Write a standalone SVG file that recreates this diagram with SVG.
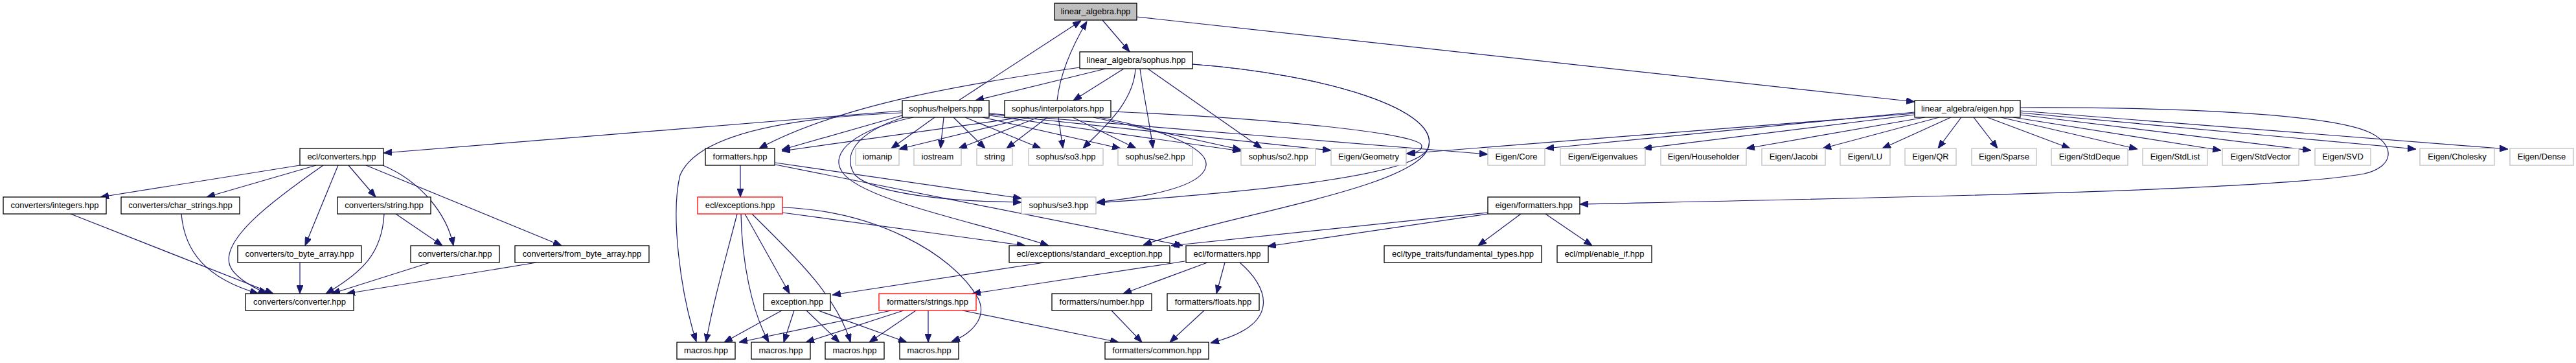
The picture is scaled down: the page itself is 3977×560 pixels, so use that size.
<svg xmlns="http://www.w3.org/2000/svg" width="3977" height="560" viewBox="0 0 3977 560">
<style>
.n rect{fill:#fff;stroke:#000;stroke-width:1.3}
.n.g rect{stroke:#bfbfbf}
.n.r rect{stroke:#ff0000}
.n.root rect{fill:#bfbfbf}
.n text{font-family:"Liberation Sans",Arial,sans-serif;font-size:13px;text-anchor:middle;fill:#000}
.e path{fill:none;stroke:#191970;stroke-width:1.2;marker-end:url(#a)}
</style>
<defs>
<marker id="a" markerUnits="userSpaceOnUse" markerWidth="13" markerHeight="10" refX="13" refY="5" orient="auto" viewBox="0 0 13 10">
<path d="M0,0 L13,5 L0,10 Z" fill="#191970" stroke="#191970" stroke-width="1"/>
</marker>
</defs>
<rect width="3977" height="560" fill="#fff"/>
<g id="edges" class="e">
<path d="M1702,31 L1744,80"/>
<path d="M1755,26 L2956,157"/>
<path d="M1480,155 L1669,32"/>
<path d="M1632,155 C1636,120 1650,80 1678,33"/>
<path d="M1707,106 L1506,155"/>
<path d="M1735,106 L1657,155"/>
<path d="M1667,104 C1500,128 1300,160 1172,229"/>
<path d="M1753,106 C1750,160 1700,200 1672,229"/>
<path d="M1760,106 C1766,150 1775,190 1780,229"/>
<path d="M1772,106 L1948,229"/>
<path d="M1841,99 C2050,115 2225,170 2205,228 C2190,270 1950,295 1693,313"/>
<path d="M1841,99 C2050,115 2225,170 2205,228 C2185,290 1900,330 1765,378"/>
<path d="M3119,166 C3350,165 3600,175 3660,205 C3700,225 3695,258 3650,268 C3500,295 2900,305 2439,315"/>
<path d="M1392,171 L592,236"/>
<path d="M1392,174 C1250,180 1080,200 1050,270 C1035,330 1050,450 1075,527"/>
<path d="M1393,178 L1207,231"/>
<path d="M1443,181 L1376,229"/>
<path d="M1457,181 L1452,229"/>
<path d="M1472,181 L1521,229"/>
<path d="M1490,181 L1607,229"/>
<path d="M1517,181 L1730,229"/>
<path d="M1527,178 L1916,233"/>
<path d="M1527,176 L2055,232"/>
<path d="M1527,175 L2297,238"/>
<path d="M1395,181 C1320,205 1300,240 1320,270 C1350,300 1470,311 1577,312"/>
<path d="M1410,181 C1320,200 1280,235 1300,265 C1330,310 1520,345 1619,379"/>
<path d="M1578,181 L1207,233"/>
<path d="M1589,181 L1388,230"/>
<path d="M1603,181 L1480,229"/>
<path d="M1617,181 L1554,229"/>
<path d="M1634,181 L1641,229"/>
<path d="M1656,181 L1754,229"/>
<path d="M1688,181 L1916,231"/>
<path d="M1697,181 C1800,200 1865,230 1862,255 C1858,290 1760,305 1693,312"/>
<path d="M1715,172 C1950,182 2195,205 2195,225 C2195,233 2185,236 2172,237"/>
<path d="M1143,255 L1143,304"/>
<path d="M1197,251 L1577,306"/>
<path d="M1197,254 L1826,379"/>
<path d="M1138,330 C1120,400 1100,470 1090,528"/>
<path d="M1144,330 C1145,400 1160,480 1187,528"/>
<path d="M1150,330 L1219,453"/>
<path d="M1161,330 C1210,380 1290,450 1313,528"/>
<path d="M1208,328 L1583,379"/>
<path d="M1208,320 C1350,325 1470,390 1510,460 C1525,490 1500,515 1469,527"/>
<path d="M1207,479 L1118,528"/>
<path d="M1226,479 L1210,528"/>
<path d="M1245,479 L1296,528"/>
<path d="M1263,479 L1400,528"/>
<path d="M1376,479 L1141,528"/>
<path d="M1395,479 L1244,528"/>
<path d="M1414,479 L1342,528"/>
<path d="M1433,479 L1433,528"/>
<path d="M1486,479 L1727,528"/>
<path d="M1612,405 L1285,455"/>
<path d="M1829,403 L1501,453"/>
<path d="M1864,405 L1734,453"/>
<path d="M1891,405 L1878,453"/>
<path d="M1914,405 C1955,440 1985,500 1869,529"/>
<path d="M1716,479 L1763,528"/>
<path d="M1859,479 L1806,528"/>
<path d="M2297,328 L1808,379"/>
<path d="M2297,330 L1957,380"/>
<path d="M2348,330 L2282,379"/>
<path d="M2386,330 L2458,379"/>
<path d="M463,255 L155,304"/>
<path d="M488,255 L319,304"/>
<path d="M499,255 C420,310 340,370 355,410 C362,428 390,443 412,453"/>
<path d="M522,255 L471,379"/>
<path d="M538,255 L580,304"/>
<path d="M565,255 L867,379"/>
<path d="M591,255 C650,280 690,330 700,379"/>
<path d="M109,330 L422,453"/>
<path d="M280,330 C285,390 320,430 399,453"/>
<path d="M463,405 L463,453"/>
<path d="M611,330 L683,379"/>
<path d="M593,330 C590,390 560,420 503,453"/>
<path d="M664,405 L512,453"/>
<path d="M828,405 L535,453"/>
<path d="M2956,175 L2171,237"/>
<path d="M2956,173 L2386,229"/>
<path d="M2956,177 L2537,229"/>
<path d="M2972,181 L2696,229"/>
<path d="M2994,181 L2814,229"/>
<path d="M3012,181 L2906,229"/>
<path d="M3028,181 L2992,229"/>
<path d="M3047,181 L3084,229"/>
<path d="M3068,181 L3196,229"/>
<path d="M3089,181 L3300,230"/>
<path d="M3108,181 L3429,232"/>
<path d="M3119,177 L3568,232"/>
<path d="M3119,174 L3730,230"/>
<path d="M3119,171 L3872,230"/>
</g>
<g id="n_linear_algebra" class="n root"><rect x="1628" y="5" width="127" height="26"/><text x="1691.5" y="22">linear_algebra.hpp</text></g>
<g id="n_la_sophus" class="n"><rect x="1667" y="80" width="174" height="26"/><text x="1754" y="97">linear_algebra/sophus.hpp</text></g>
<g id="n_helpers" class="n"><rect x="1393" y="155" width="134" height="26"/><text x="1460" y="172">sophus/helpers.hpp</text></g>
<g id="n_interpolators" class="n"><rect x="1551" y="155" width="164" height="26"/><text x="1633" y="172">sophus/interpolators.hpp</text></g>
<g id="n_la_eigen" class="n"><rect x="2956" y="155" width="163" height="26"/><text x="3037.5" y="172">linear_algebra/eigen.hpp</text></g>
<g id="n_ecl_converters" class="n"><rect x="463" y="229" width="129" height="26"/><text x="527.5" y="246">ecl/converters.hpp</text></g>
<g id="n_formatters" class="n"><rect x="1089" y="229" width="107" height="26"/><text x="1142.5" y="246">formatters.hpp</text></g>
<g id="n_iomanip" class="n g"><rect x="1321" y="229" width="67" height="26"/><text x="1354.5" y="246">iomanip</text></g>
<g id="n_iostream" class="n g"><rect x="1411" y="229" width="73" height="26"/><text x="1447.5" y="246">iostream</text></g>
<g id="n_string" class="n g"><rect x="1508" y="229" width="55" height="26"/><text x="1535.5" y="246">string</text></g>
<g id="n_so3" class="n g"><rect x="1588" y="229" width="115" height="26"/><text x="1645.5" y="246">sophus/so3.hpp</text></g>
<g id="n_se2" class="n g"><rect x="1726" y="229" width="115" height="26"/><text x="1783.5" y="246">sophus/se2.hpp</text></g>
<g id="n_so2" class="n g"><rect x="1916" y="229" width="115" height="26"/><text x="1973.5" y="246">sophus/so2.hpp</text></g>
<g id="n_geometry" class="n g"><rect x="2055" y="229" width="116" height="26"/><text x="2113" y="246">Eigen/Geometry</text></g>
<g id="n_core" class="n g"><rect x="2297" y="229" width="88" height="26"/><text x="2341" y="246">Eigen/Core</text></g>
<g id="n_eigenvalues" class="n g"><rect x="2409" y="229" width="131" height="26"/><text x="2474.5" y="246">Eigen/Eigenvalues</text></g>
<g id="n_householder" class="n g"><rect x="2564" y="229" width="132" height="26"/><text x="2630" y="246">Eigen/Householder</text></g>
<g id="n_jacobi" class="n g"><rect x="2720" y="229" width="98" height="26"/><text x="2769" y="246">Eigen/Jacobi</text></g>
<g id="n_lu" class="n g"><rect x="2841" y="229" width="77" height="26"/><text x="2879.5" y="246">Eigen/LU</text></g>
<g id="n_qr" class="n g"><rect x="2941" y="229" width="79" height="26"/><text x="2980.5" y="246">Eigen/QR</text></g>
<g id="n_sparse" class="n g"><rect x="3044" y="229" width="100" height="26"/><text x="3094" y="246">Eigen/Sparse</text></g>
<g id="n_stddeque" class="n g"><rect x="3167" y="229" width="118" height="26"/><text x="3226" y="246">Eigen/StdDeque</text></g>
<g id="n_stdlist" class="n g"><rect x="3308" y="229" width="100" height="26"/><text x="3358" y="246">Eigen/StdList</text></g>
<g id="n_stdvector" class="n g"><rect x="3431" y="229" width="118" height="26"/><text x="3490" y="246">Eigen/StdVector</text></g>
<g id="n_svd" class="n g"><rect x="3574" y="229" width="86" height="26"/><text x="3617" y="246">Eigen/SVD</text></g>
<g id="n_cholesky" class="n g"><rect x="3736" y="229" width="115" height="26"/><text x="3793.5" y="246">Eigen/Cholesky</text></g>
<g id="n_dense" class="n g"><rect x="3875" y="229" width="98" height="26"/><text x="3924" y="246">Eigen/Dense</text></g>
<g id="n_integers" class="n"><rect x="5" y="304" width="159" height="26"/><text x="84.5" y="321">converters/integers.hpp</text></g>
<g id="n_char_strings" class="n"><rect x="187" y="304" width="183" height="26"/><text x="278.5" y="321">converters/char_strings.hpp</text></g>
<g id="n_conv_string" class="n"><rect x="521" y="304" width="144" height="26"/><text x="593" y="321">converters/string.hpp</text></g>
<g id="n_ecl_exceptions" class="n r"><rect x="1077" y="304" width="131" height="26"/><text x="1142.5" y="321">ecl/exceptions.hpp</text></g>
<g id="n_se3" class="n g"><rect x="1577" y="304" width="115" height="26"/><text x="1634.5" y="321">sophus/se3.hpp</text></g>
<g id="n_eigen_formatters" class="n"><rect x="2297" y="304" width="142" height="26"/><text x="2368" y="321">eigen/formatters.hpp</text></g>
<g id="n_to_byte_array" class="n"><rect x="367" y="379" width="191" height="26"/><text x="462.5" y="396">converters/to_byte_array.hpp</text></g>
<g id="n_conv_char" class="n"><rect x="634" y="379" width="137" height="26"/><text x="702.5" y="396">converters/char.hpp</text></g>
<g id="n_from_byte_array" class="n"><rect x="795" y="379" width="207" height="26"/><text x="898.5" y="396">converters/from_byte_array.hpp</text></g>
<g id="n_standard_exception" class="n"><rect x="1558" y="379" width="248" height="26"/><text x="1682" y="396">ecl/exceptions/standard_exception.hpp</text></g>
<g id="n_ecl_formatters" class="n"><rect x="1831" y="379" width="127" height="26"/><text x="1894.5" y="396">ecl/formatters.hpp</text></g>
<g id="n_fundamental_types" class="n"><rect x="2137" y="379" width="243" height="26"/><text x="2258.5" y="396">ecl/type_traits/fundamental_types.hpp</text></g>
<g id="n_enable_if" class="n"><rect x="2404" y="379" width="146" height="26"/><text x="2477" y="396">ecl/mpl/enable_if.hpp</text></g>
<g id="n_converter" class="n"><rect x="379" y="453" width="167" height="26"/><text x="462.5" y="470">converters/converter.hpp</text></g>
<g id="n_exception" class="n"><rect x="1179" y="453" width="103" height="26"/><text x="1230.5" y="470">exception.hpp</text></g>
<g id="n_fmt_strings" class="n r"><rect x="1357" y="453" width="150" height="26"/><text x="1432" y="470">formatters/strings.hpp</text></g>
<g id="n_fmt_number" class="n"><rect x="1624" y="453" width="154" height="26"/><text x="1701" y="470">formatters/number.hpp</text></g>
<g id="n_fmt_floats" class="n"><rect x="1802" y="453" width="142" height="26"/><text x="1873" y="470">formatters/floats.hpp</text></g>
<g id="n_macros1" class="n"><rect x="1045" y="528" width="90" height="26"/><text x="1090" y="545">macros.hpp</text></g>
<g id="n_macros2" class="n"><rect x="1160" y="528" width="91" height="26"/><text x="1205.5" y="545">macros.hpp</text></g>
<g id="n_macros3" class="n"><rect x="1274" y="528" width="91" height="26"/><text x="1319.5" y="545">macros.hpp</text></g>
<g id="n_macros4" class="n"><rect x="1389" y="528" width="91" height="26"/><text x="1434.5" y="545">macros.hpp</text></g>
<g id="n_fmt_common" class="n"><rect x="1706" y="528" width="160" height="26"/><text x="1786" y="545">formatters/common.hpp</text></g>
</svg>
